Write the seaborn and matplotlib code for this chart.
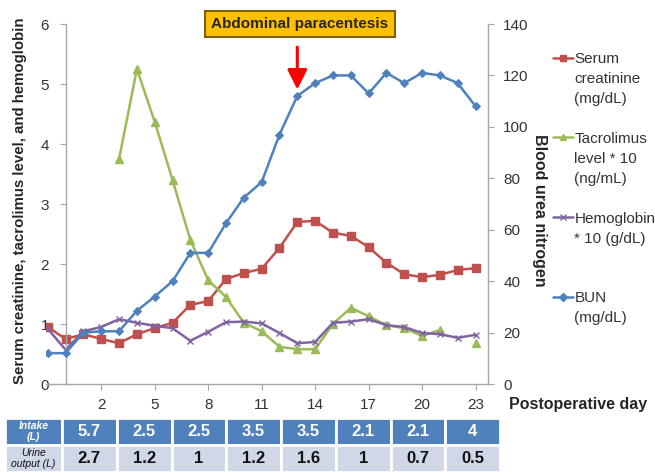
import numpy as np
import matplotlib
matplotlib.use('Agg')
import matplotlib.pyplot as plt
import seaborn as sns
from matplotlib.lines import Line2D

sns.set_style('white')
plt.rcParams['font.family'] = ['Liberation Sans', 'DejaVu Sans']

nan = np.nan
days = list(range(-1, 24))

creatinine = [0.95, 0.75, 0.83, 0.75, 0.68, 0.83, 0.93, 1.02, 1.32, 1.38, 1.75, 1.85, 1.92,
              2.27, 2.7, 2.72, 2.52, 2.47, 2.28, 2.02, 1.83, 1.78, 1.82, 1.9, 1.93]
tacrolimus = [nan, nan, nan, nan, 3.75, 5.25, 4.37, 3.4, 2.4, 1.73, 1.45, 1.02, 0.88,
              0.62, 0.58, 0.58, 1.0, 1.27, 1.13, 0.98, 0.93, 0.8, 0.9, nan, 0.68]
hemoglobin = [0.92, 0.57, 0.88, 0.95, 1.08, 1.02, 0.97, 0.93, 0.72, 0.87, 1.03, 1.04, 1.01,
              0.85, 0.68, 0.7, 1.02, 1.04, 1.08, 0.98, 0.95, 0.85, 0.83, 0.77, 0.82]
bun = [12, 12, 20, 20.5, 20.5, 28.5, 34, 40, 51, 51, 62.5, 72.5, 78.5,
       97, 112, 117, 120, 120, 113, 121, 117, 121, 120, 117, 108]

tick_days = [2, 5, 8, 11, 14, 17, 20, 23]
intake = [5.7, 2.5, 2.5, 3.5, 3.5, 2.1, 2.1, 4]
urine = [2.7, 1.2, 1, 1.2, 1.6, 1, 0.7, 0.5]
paracentesis_day = 13

RED, GREEN, PURPLE, BLUE = '#C0504D', '#9BBB59', '#8064A2', '#4F81BD'
AXCOL = '#A6A6A6'
TXT = '#333333'


def runs(x, y):
    # split a series at its gaps so the line breaks there
    seg_x, seg_y = [], []
    for a, b in zip(x, y):
        if np.isnan(b):
            if seg_x:
                yield seg_x, seg_y
            seg_x, seg_y = [], []
        else:
            seg_x.append(a)
            seg_y.append(b)
    if seg_x:
        yield seg_x, seg_y


fig = plt.figure(figsize=(6.55, 4.75), dpi=100)
ax = fig.add_axes([46/655, 91/475, 442/655, 360/475])
ax2 = ax.twinx()

series = [
    (creatinine, RED, 's', 5.5, 1),
    (tacrolimus, GREEN, '^', 5.5, 1),
    (hemoglobin, PURPLE, 'x', 5, 1),
]
for vals, col, mk, ms, mew in series:
    for sx, sy in runs(days, vals):
        sns.lineplot(x=sx, y=sy, ax=ax, color=col, marker=mk, markersize=ms,
                     markeredgecolor=col, markeredgewidth=mew, linewidth=1.8)

sns.lineplot(x=days, y=bun, ax=ax2, color=BLUE, marker='D', markersize=4,
             markeredgecolor=BLUE, linewidth=1.8)

ax.set_xlim(-1.1, 23.7)
ax.set_ylim(0, 6)
ax2.set_ylim(0, 140)
ax.set_xticks(tick_days)
ax.set_yticks(range(0, 7))
ax2.set_yticks(range(0, 141, 20))
ax.set_xlabel('')
ax.set_ylabel('')
ax2.set_ylabel('')

for a in (ax, ax2):
    for s in a.spines.values():
        s.set_color(AXCOL)
        s.set_linewidth(1)
    a.spines['top'].set_visible(False)
ax.spines['right'].set_visible(False)
ax2.spines['left'].set_visible(False)
ax2.spines['bottom'].set_visible(False)
ax.spines['left'].set_position(('data', 0))

ax.tick_params(axis='x', length=4, color=AXCOL, labelsize=11, labelcolor=TXT, pad=6, bottom=True)
ax.tick_params(axis='y', length=4, color=AXCOL, labelsize=11, labelcolor=TXT, pad=8, left=True)
ax2.tick_params(axis='y', length=4, color=AXCOL, labelsize=11, labelcolor=TXT, pad=7, right=True)

fig.text(20/655, 1 - 201/475, 'Serum creatinine, tacrolimus level, and hemoglobin',
         rotation=90, ha='center', va='center', fontsize=10.8, fontweight='bold')
fig.text(540/655, 1 - 210/475, 'Blood urea nitrogen', rotation=-90,
         ha='center', va='center', fontsize=11.5, fontweight='bold')
fig.text(509/655, 1 - 405/475, 'Postoperative day', ha='left', va='center',
         fontsize=11.5, fontweight='bold')

# paracentesis marker
para_idx = days.index(paracentesis_day)
ax2.annotate('', xy=(paracentesis_day, bun[para_idx] + 2.5),
             xytext=(paracentesis_day, bun[para_idx] + 19),
             arrowprops=dict(arrowstyle='-|>,head_width=0.4,head_length=0.8',
                             color='#FF0000', lw=2.2, mutation_scale=15,
                             shrinkA=0, shrinkB=0))
ax2.text(paracentesis_day + 0.15, 140, 'Abdominal paracentesis', ha='center', va='center',
         fontsize=11, fontweight='bold', zorder=5,
         bbox=dict(boxstyle='square,pad=0.4', fc='#FFC000', ec='#7F6000', lw=1.5))

# legend, Excel style: marker on the first line of each label
entries = [
    (['Serum', 'creatinine', '(mg/dL)'], RED, 's', 5),
    (['Tacrolimus', 'level * 10', '(ng/mL)'], GREEN, '^', 5),
    (['Hemoglobin', '* 10 (g/dL)'], PURPLE, 'x', 5),
    (['BUN', '(mg/dL)'], BLUE, 'D', 4),
]
handles, labels = [], []
for i, (lines, col, mk, ms) in enumerate(entries):
    rows = lines + [' '] * (4 - len(lines)) if i < len(entries) - 1 else lines
    for j, txt in enumerate(rows):
        if j == 0:
            handles.append(Line2D([0], [0], color=col, marker=mk, markersize=ms,
                                  markeredgecolor=col, lw=1.8))
        else:
            handles.append(Line2D([0], [0], linestyle='none'))
        labels.append(txt)
leg = ax2.legend(handles, labels, loc='upper left', bbox_to_anchor=(553/655, 1 - 52/475),
                 bbox_transform=fig.transFigure, frameon=False, fontsize=11,
                 handlelength=1.3, handletextpad=0.1, labelspacing=0.39,
                 borderpad=0, borderaxespad=0)
for t in leg.get_texts():
    t.set_color(TXT)

# fluid balance table under the axis
tax = fig.add_axes([5/655, 3/475, 495/655, 54/475])
tax.axis('off')
cells = [['Intake\n(L)'] + ['{:g}'.format(v) for v in intake],
         ['Urine\noutput (L)'] + ['{:g}'.format(v) for v in urine]]
ncol = len(tick_days)
widths = [57/495] + [(438/495) / ncol] * ncol
tbl = tax.table(cellText=cells, colWidths=widths, cellLoc='center', bbox=[0, 0, 1, 1])
tbl.auto_set_font_size(False)
for (r, c), cell in tbl.get_celld().items():
    cell.set_edgecolor('white')
    cell.set_linewidth(2)
    txt = cell.get_text()
    if r == 0:
        cell.set_facecolor('#4F81BD')
        txt.set_color('white')
    else:
        cell.set_facecolor('#D0D8E8')
        txt.set_color('#111111')
    if c == 0:
        txt.set_fontsize(7.5)
        txt.set_fontstyle('italic')
        txt.set_fontweight('bold' if r == 0 else 'normal')
    else:
        txt.set_fontsize(12)
        txt.set_fontweight('bold')

fig.savefig('out.png', dpi=100)
